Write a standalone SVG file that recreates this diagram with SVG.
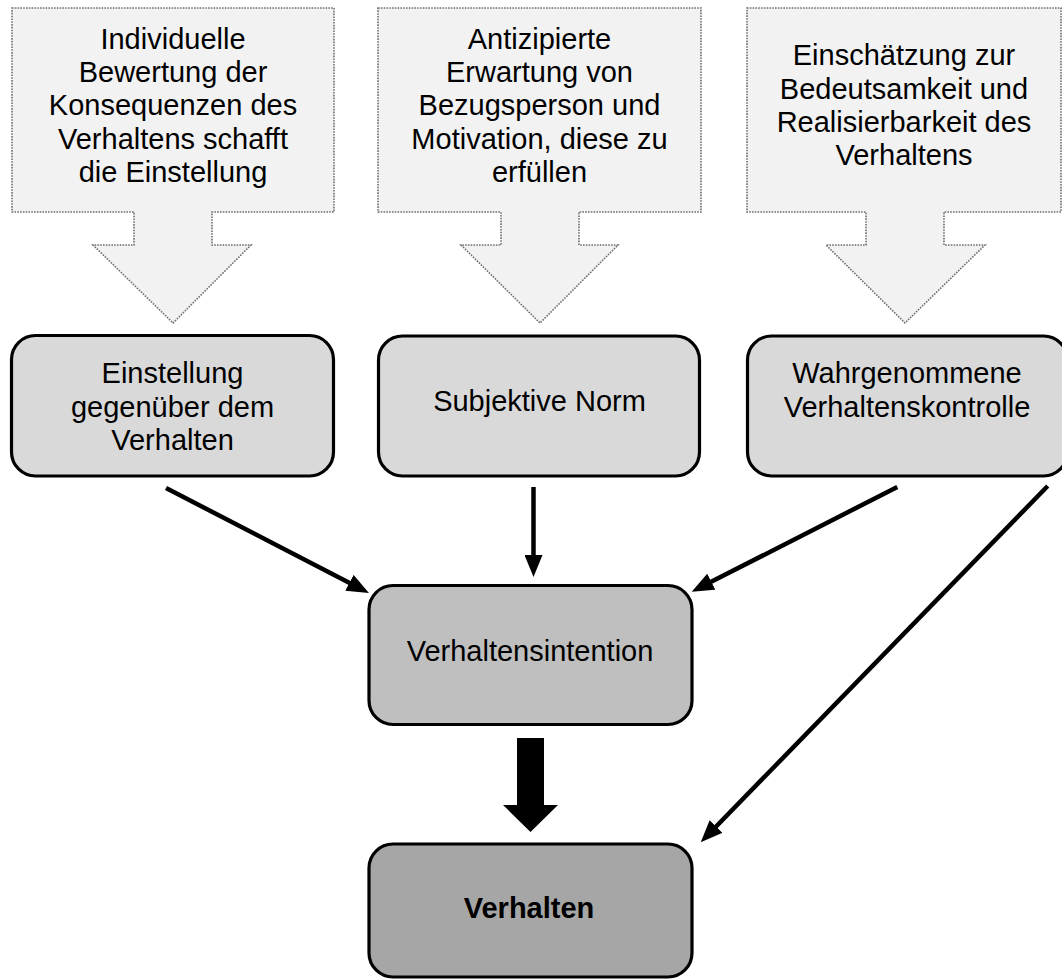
<svg xmlns="http://www.w3.org/2000/svg" width="1062" height="980" viewBox="0 0 1062 980">
<style>
  .t { font-family: "Liberation Sans", Arial, sans-serif; font-size: 29px; fill: #000; text-anchor: middle; }
  .b { font-weight: bold; }
  .callout { fill: #f2f2f2; stroke: #6f6f6f; stroke-width: 1.6; stroke-dasharray: 1.6 1.2; }
  .box { stroke: #000; stroke-width: 3.2; }
  .conn { stroke: #000; stroke-width: 4.5; fill: none; marker-end: url(#ah); }
</style>
<defs>
  <marker id="ah" viewBox="0 0 22 18" refX="9" refY="9" markerWidth="22" markerHeight="18" markerUnits="userSpaceOnUse" orient="auto">
    <path d="M0,0 L22,9 L0,18 z" fill="#000"/>
  </marker>
</defs>
<rect width="1062" height="980" fill="#fff"/>

<g id="callout1">
  <path class="callout" d="M12,8 H334 V212 H212 V245 H251 L173,323 L93,245 H134 V212 H12 Z"/>
  <text class="t" x="173" y="48.7">Individuelle</text>
  <text class="t" x="173" y="82">Bewertung der</text>
  <text class="t" x="173" y="115.3">Konsequenzen des</text>
  <text class="t" x="173" y="148.7">Verhaltens schafft</text>
  <text class="t" x="173" y="182">die Einstellung</text>
</g>
<g id="callout2">
  <path class="callout" d="M378,8 H701 V212 H579 V245 H618 L540,323 L461,245 H501 V212 H378 Z"/>
  <text class="t" x="539.5" y="48.7">Antizipierte</text>
  <text class="t" x="539.5" y="82">Erwartung von</text>
  <text class="t" x="539.5" y="115.3">Bezugsperson und</text>
  <text class="t" x="539.5" y="148.7">Motivation, diese zu</text>
  <text class="t" x="539.5" y="182">erfüllen</text>
</g>
<g id="callout3">
  <path class="callout" d="M747,8 H1061 V212 H944 V245 H985 L905,323 L826,245 H866 V212 H747 Z"/>
  <text class="t" x="904" y="65.3">Einschätzung zur</text>
  <text class="t" x="904" y="98.7">Bedeutsamkeit und</text>
  <text class="t" x="904" y="132">Realisierbarkeit des</text>
  <text class="t" x="904" y="165.3">Verhaltens</text>
</g>

<g id="einstellung">
  <rect class="box" x="11.5" y="335.5" width="322" height="140.5" rx="24" ry="24" fill="#d9d9d9"/>
  <text class="t" x="172.5" y="383.3">Einstellung</text>
  <text class="t" x="172.5" y="416.7">gegenüber dem</text>
  <text class="t" x="172.5" y="450">Verhalten</text>
</g>
<g id="norm">
  <rect class="box" x="378.5" y="336" width="321" height="140" rx="24" ry="24" fill="#d9d9d9"/>
  <text class="t" x="539.5" y="411">Subjektive Norm</text>
</g>
<g id="kontrolle">
  <rect class="box" x="747.5" y="336" width="320" height="140" rx="24" ry="24" fill="#d9d9d9"/>
  <text class="t" x="907" y="383.3">Wahrgenommene</text>
  <text class="t" x="907" y="416.7">Verhaltenskontrolle</text>
</g>
<g id="intention">
  <rect class="box" x="369" y="585.5" width="323" height="139" rx="24" ry="24" fill="#bfbfbf"/>
  <text class="t" x="530" y="660.7">Verhaltensintention</text>
</g>
<g id="verhalten">
  <rect class="box" x="369" y="844" width="323" height="133" rx="24" ry="24" fill="#a6a6a6"/>
  <text class="t b" x="529" y="918.3">Verhalten</text>
</g>

<g id="connectors">
  <line class="conn" x1="166" y1="488" x2="357.4" y2="587"/>
  <line class="conn" x1="533.5" y1="487" x2="533.5" y2="564"/>
  <line class="conn" x1="897.3" y1="487" x2="703.3" y2="585.8"/>
  <line class="conn" x1="1047.7" y1="486" x2="709.8" y2="833"/>
  <polygon points="517,738 544,738 544,805 558,805 530.5,832 503,805 517,805" fill="#000"/>
</g>
</svg>
